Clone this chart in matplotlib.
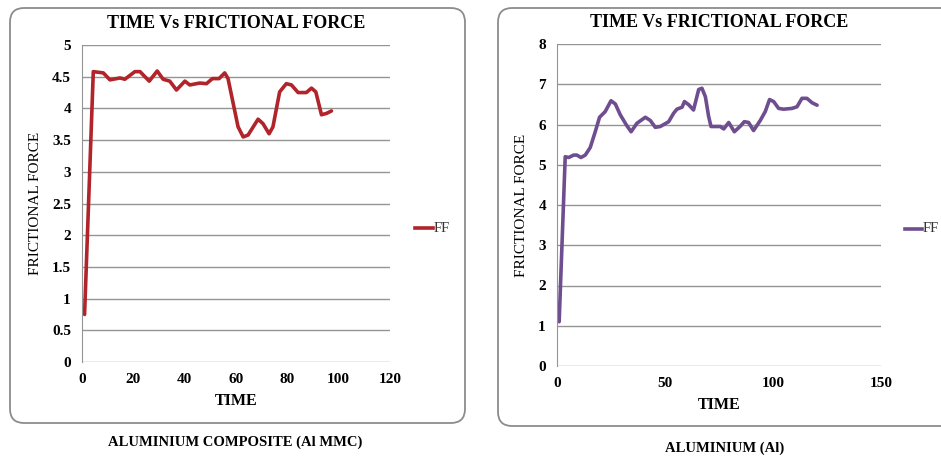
import numpy as np
import matplotlib
matplotlib.use("Agg")
import matplotlib.pyplot as plt
from matplotlib.patches import FancyBboxPatch
from matplotlib.lines import Line2D

# Aluminium composite (Al MMC)
time_mmc = [1, 4.4, 8.3, 10.9, 14.8, 16.7, 20.6, 22.6, 26.2, 29.3, 31.6, 34.2, 36.8,
            40.1, 42, 45.9, 48.5, 50.8, 53.4, 55.6, 56.9, 58.9, 60.8, 62.8, 64.7,
            68.6, 70.5, 72.9, 74.4, 77, 79.6, 81.6, 84.2, 87.4, 89.4, 91.1, 93.3,
            95.2, 97.2]
ff_mmc = [0.75, 4.58, 4.56, 4.45, 4.48, 4.46, 4.58, 4.58, 4.43, 4.59, 4.46, 4.43, 4.29,
          4.43, 4.37, 4.40, 4.39, 4.47, 4.47, 4.56, 4.47, 4.08, 3.71, 3.55, 3.58,
          3.83, 3.76, 3.60, 3.71, 4.26, 4.39, 4.37, 4.25, 4.25, 4.32, 4.26, 3.90,
          3.92, 3.96]

# Aluminium (Al)
time_al = [1, 3.8, 5.4, 7.7, 9.2, 11.1, 13.1, 15.4, 17.7, 19.7, 22.3, 25, 27, 29.3,
           32.1, 34.3, 37, 40.9, 43.2, 45.5, 47.8, 50.1, 51.7, 54, 55.5, 57.9, 59,
           61, 63.2, 65.6, 67.1, 68.7, 70.2, 71.3, 73.3, 75.6, 77.2, 79.5, 82.1,
           84.9, 86.7, 88.7, 91, 94.1, 96.4, 98.4, 100.3, 102.6, 104.9, 108.8,
           111.1, 113.4, 115.7, 118.1, 120.4]
ff_al = [1.1, 5.2, 5.18, 5.24, 5.24, 5.18, 5.24, 5.43, 5.82, 6.18, 6.32, 6.59, 6.51,
         6.24, 5.99, 5.82, 6.03, 6.18, 6.10, 5.93, 5.95, 6.02, 6.07, 6.28, 6.38,
         6.43, 6.57, 6.49, 6.36, 6.87, 6.90, 6.69, 6.20, 5.95, 5.95, 5.95, 5.89,
         6.05, 5.82, 5.96, 6.07, 6.05, 5.85, 6.10, 6.32, 6.62, 6.57, 6.40, 6.38,
         6.40, 6.44, 6.65, 6.65, 6.54, 6.48]

W, H = 941, 459
serif = "Liberation Serif"
fig = plt.figure(figsize=(W / 100, H / 100), dpi=100)
fig.patch.set_facecolor("white")


def px(x0, y0, x1, y1):
    # pixel box (top-left origin) -> figure fraction rect
    return [x0 / W, 1 - y1 / H, (x1 - x0) / W, (y1 - y0) / H]


def frame(x0, y0, x1, y1):
    r = px(x0, y0, x1, y1)
    box = FancyBboxPatch((r[0], r[1]), r[2], r[3], boxstyle="round,pad=0,rounding_size=0.015",
                         transform=fig.transFigure, facecolor="none",
                         edgecolor="#8c8c8c", linewidth=1.3, mutation_aspect=W / H)
    fig.patches.append(box)


def panel(rect, t, y, color, xmax, xstep, ymax, ystep):
    ax = fig.add_axes(rect)
    ax.plot(t, y, color=color, lw=2.6, solid_joinstyle="round", solid_capstyle="round")
    ax.set_xlim(0, xmax)
    ax.set_ylim(0, ymax)
    ax.set_xticks(np.arange(0, xmax + 1, xstep))
    yt = np.arange(0, ymax + 0.001, ystep)
    ax.set_yticks(yt)
    ax.set_yticklabels(["%g" % v for v in yt])
    ax.yaxis.grid(True, color="#949494", lw=1.0)
    ax.set_axisbelow(True)
    for s in ["top", "right", "bottom"]:
        ax.spines[s].set_visible(False)
    ax.spines["left"].set_color("#949494")
    ax.tick_params(length=0, pad=8)
    for lab in ax.get_xticklabels() + ax.get_yticklabels():
        lab.set_fontfamily(serif)
        lab.set_fontweight("bold")
        lab.set_fontsize(11)
    ax.set_title("TIME Vs FRICTIONAL FORCE", fontfamily=serif, fontweight="bold",
                 fontsize=13, pad=12)
    ax.set_xlabel("TIME", fontfamily=serif, fontweight="bold", fontsize=11.5, labelpad=5)
    ax.set_ylabel("FRICTIONAL FORCE", fontfamily=serif, fontsize=11, labelpad=7)
    return ax


frame(10, 8, 465, 423)
frame(498, 8, 960, 426)

ax1 = panel(px(82, 45, 390, 362), time_mmc, ff_mmc, "#b0242a", 120, 20, 5, 0.5)
ax2 = panel(px(557, 44, 881, 366), time_al, ff_al, "#6f4e8f", 150, 50, 8, 1)

# legends outside plot area
fig.lines.append(Line2D([415 / W, 433 / W], [1 - 228 / H] * 2, color="#b0242a", lw=2.6,
                        transform=fig.transFigure))
fig.text(434 / W, 1 - 228 / H, "FF", fontfamily=serif, fontsize=10.5, va="center", color="#333333")
fig.lines.append(Line2D([905 / W, 922 / W], [1 - 229 / H] * 2, color="#6f4e8f", lw=2.6,
                        transform=fig.transFigure))
fig.text(923 / W, 1 - 229 / H, "FF", fontfamily=serif, fontsize=10.5, va="center", color="#333333")

# captions under the charts
fig.text(235 / W, 1 - 442 / H, "ALUMINIUM COMPOSITE (Al MMC)", fontfamily=serif,
         fontweight="bold", fontsize=10.5, ha="center", va="center")
fig.text(725 / W, 1 - 448 / H, "ALUMINIUM (Al)", fontfamily=serif,
         fontweight="bold", fontsize=10.5, ha="center", va="center")

fig.savefig("out.png", dpi=100)
